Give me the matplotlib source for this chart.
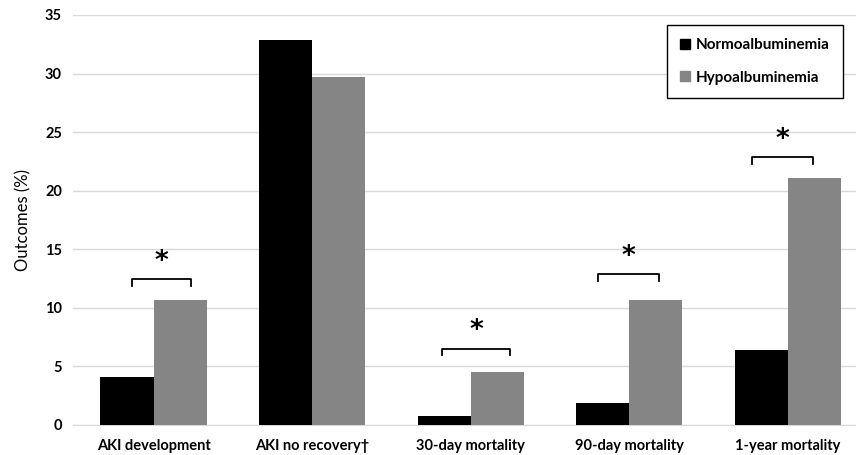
import numpy as np
import matplotlib.pyplot as plt
from matplotlib.patches import Patch

# данные
categories = ["AKI development", "AKI no recovery\u2020", "30-day mortality",
              "90-day mortality", "1-year mortality"]
normo = [4.1, 32.9, 0.8, 1.9, 6.4]
hypo = [10.7, 29.7, 4.5, 10.7, 21.1]

# скобки значимости: индекс категории, левый/правый сдвиг, высота
bracket_cat = [0, 2, 3, 4]
bracket_left = [-0.136, -0.18, -0.197, -0.226]
bracket_right = [0.237, 0.247, 0.189, 0.161]
bracket_y = [12.45, 6.5, 12.85, 22.85]

plt.rcParams['font.family'] = ['Lato', 'DejaVu Sans']

fig = plt.figure(figsize=(8.56, 4.55), dpi=100)
ax = fig.add_axes([73/856, 1 - 425/455, 1 - 73/856, 410/455])

x = np.arange(len(categories))
w = 0.335
ax.bar(x - w/2, normo, width=w, color='black', zorder=3)
ax.bar(x + w/2, hypo, width=w, color='#858585', zorder=3)

# скобки и звёздочки
arm = 0.55
for c, l, r, y in zip(bracket_cat, bracket_left, bracket_right, bracket_y):
    ax.plot([c + l, c + l, c + r, c + r], [y - arm, y, y, y - arm],
            color='black', linewidth=1.3, zorder=4)
    ax.text(c + (l + r)/2, y + 1.5, "*", ha='center', va='center',
            fontsize=19, fontweight='bold', family='DejaVu Sans')

ax.set_xlim(-0.508, 4.43)
ax.set_ylim(0, 35)
ax.set_yticks(range(0, 36, 5))
ax.set_xticks(x)
ax.set_xticklabels(categories, fontweight='bold', fontsize=10.5)
for t in ax.get_yticklabels():
    t.set_fontweight('bold')
    t.set_fontsize(10.5)
ax.tick_params(length=0, pad=8)
ax.tick_params(axis='x', pad=10)

ax.grid(axis='y', color='#d9d9d9', linewidth=1, zorder=0)
for s in ['top', 'right', 'left']:
    ax.spines[s].set_visible(False)
ax.spines['bottom'].set_color('#d9d9d9')

ax.set_ylabel("Outcomes (%)", fontsize=12, labelpad=10)

# легенда
handles = [Patch(color='black', label='Normoalbuminemia'),
           Patch(color='#858585', label='Hypoalbuminemia')]
leg = fig.legend(handles=handles, loc='upper right',
                 bbox_to_anchor=(851/856, 1 - 17/455),
                 prop={'weight': 'bold', 'size': 11},
                 handlelength=0.6, handleheight=0.6, handletextpad=0.4,
                 labelspacing=1.2, borderpad=0.9, fancybox=False,
                 edgecolor='black', framealpha=1)
leg.get_frame().set_linewidth(1)

fig.savefig("out.png", dpi=100)
